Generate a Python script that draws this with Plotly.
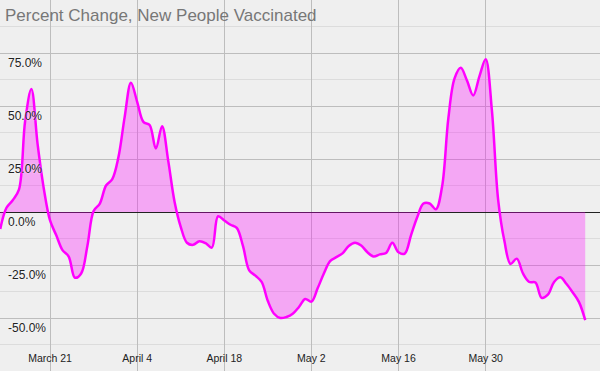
import datetime as dt
import plotly.graph_objects as go

start_date = dt.date(2021, 3, 13)
pct_change = [
    -8, 2, 5.5, 10.5, 43, 58, 32, 11, -4, -11,
    -18, -21, -31, -29, -16, 0.5, 4, 12.5, 15.5, 26,
    45, 61, 52, 42.5, 41, 30, 40.5, 24, 5, -7,
    -14.5, -15.5, -13.8, -14.7, -16.8, -2, -4, -6, -7.5, -16,
    -27.5, -30, -33, -42, -48, -50, -49.5, -48, -44.8, -41,
    -42.3, -36, -29, -23.2, -21.3, -19.5, -16, -14.5, -15.8, -19,
    -21, -20, -19.3, -14.5, -19, -19.6, -11, -2.5, 4, 4,
    1.3, 12, 44, 63, 68, 62, 55, 64, 72, 48,
    6, -13.5, -24.5, -22, -29, -33, -33.3, -40.5, -39, -33,
    -30.8, -34, -38, -42.5, -51,
]
dates = [start_date + dt.timedelta(days=i) for i in range(len(pct_change))]

x_tick_dates = ["2021-03-21", "2021-04-04", "2021-04-18", "2021-05-02", "2021-05-16", "2021-05-30"]
x_tick_labels = ["March 21", "April 4", "April 18", "May 2", "May 16", "May 30"]
y_tick_vals = [-50, -25, 0, 25, 50, 75]
y_tick_labels = ["-50.0%", "-25.0%", "0.0%", "25.0%", "50.0%", "75.0%"]
y_minor_vals = [-62.5, -37.5, -12.5, 12.5, 37.5, 62.5, 87.5]

title_text = "Percent Change, New People Vaccinated"

fig = go.Figure()
fig.add_trace(go.Scatter(
    x=dates, y=pct_change, mode="lines",
    line=dict(color="#ff00ff", width=2.5, shape="spline", smoothing=1),
    fill="tozeroy", fillcolor="rgba(255,0,255,0.3)",
    hoverinfo="skip", showlegend=False,
))

sans = "Liberation Sans, Arial, sans-serif"

fig.update_layout(
    width=600, height=371,
    margin=dict(l=0, r=0, t=0, b=0),
    paper_bgcolor="#efefef", plot_bgcolor="#efefef",
    showlegend=False,
    xaxis=dict(
        type="date",
        range=["2021-03-12 23:00", "2021-06-17 09:00"],
        tickmode="array", tickvals=x_tick_dates, ticktext=x_tick_labels,
        ticklabelposition="inside", ticks="", ticklabelstandoff=4,
        showgrid=True, gridcolor="#bdbdbd", gridwidth=1,
        zeroline=False, showline=False,
        tickfont=dict(family=sans, size=10.5, color="#222"),
    ),
    yaxis=dict(
        range=[-75, 100],
        tickmode="array", tickvals=y_tick_vals, ticktext=y_tick_labels,
        ticklabelposition="inside bottom", ticks="",
        ticklabelstandoff=5, ticklabelshift=1,
        showgrid=True, gridcolor="#bdbdbd", gridwidth=1,
        minor=dict(tickmode="array", tickvals=y_minor_vals, showgrid=True,
                   gridcolor="#dcdcdc", gridwidth=1, ticks=""),
        zeroline=True, zerolinecolor="#222", zerolinewidth=1,
        showline=False,
        tickfont=dict(family=sans, size=12, color="#222",
                      shadow="0px 0px 2px white"),
    ),
    annotations=[dict(
        text=title_text, xref="paper", yref="paper", x=0, y=1,
        xanchor="left", yanchor="top", xshift=3, yshift=-4, showarrow=False,
        font=dict(family=sans, size=17, color="#777"),
    )],
)

fig.write_html(
    "out.html",
    config={"displayModeBar": False},
    post_script="document.body.style.margin='0px';document.body.style.overflow='hidden';",
)
